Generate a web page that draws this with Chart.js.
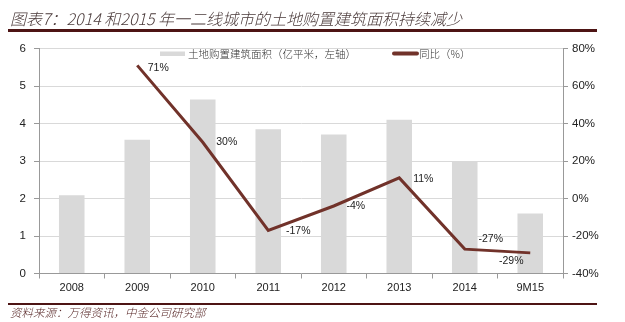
<!DOCTYPE html>
<html>
<head>
<meta charset="utf-8">
<script src="https://cdn.jsdelivr.net/npm/chart.js@4/dist/chart.umd.min.js"></script>
<style>
  html, body { margin: 0; padding: 0; background: #fff; }
  #wrap { position: relative; width: 625px; height: 322px; overflow: hidden; }
  #chart { position: absolute; left: 0; top: 0; }
  .rule { position: absolute; left: 8px; width: 589px; height: 2.5px; background: #4d1414; }
  #title {
    position: absolute; left: 10px; top: 8px;
    font-family: "Noto Sans CJK SC", sans-serif; font-style: italic; font-weight: 300;
    font-size: 16px; color: #4a3a3a; white-space: nowrap; line-height: 20px;
  }
  #source {
    position: absolute; left: 10px; top: 305px;
    font-family: "Noto Sans CJK SC", sans-serif; font-style: italic; font-weight: 300;
    font-size: 11.5px; color: #5a2a2a; white-space: nowrap; line-height: 15px;
  }
</style>
</head>
<body>
<div id="wrap">
  <canvas id="chart" width="625" height="322"></canvas>
  <div id="title">图表7：2014 和2015 年一二线城市的土地购置建筑面积持续减少</div>
  <div class="rule" style="top:29px"></div>
  <div class="rule" style="top:302.5px"></div>
  <div id="source">资料来源：万得资讯，中金公司研究部</div>
</div>
<script>
// Data
const categories = ['2008', '2009', '2010', '2011', '2012', '2013', '2014', '9M15'];
const landArea = [2.09, 3.57, 4.64, 3.85, 3.71, 4.10, 3.00, 1.60];   // 亿平米
const yoyGrowth = [null, 71, 30, -17, -4, 11, -27, -29];            // %
const leftTicks = [0, 1, 2, 3, 4, 5, 6];
const rightTicks = [-40, -20, 0, 20, 40, 60, 80];

// label placement relative to each point (text centre)
const labelDx = [0, 21, 24, 30, 22, 24, 26, -19];
const labelDy = [0, 3, 0, 1, 0, 1, -10, 8];

const barColor = '#d9d9d9';
const lineColor = '#71322a';
const axisColor = '#999999';
const numFont = '"Liberation Sans", Arial, sans-serif';

// Draw value labels next to the line points
const lineLabels = {
    id: 'lineLabels',
    afterDatasetsDraw(chart) {
        const ctx = chart.ctx;
        const meta = chart.getDatasetMeta(1);
        ctx.save();
        ctx.font = '10.5px ' + numFont;
        ctx.fillStyle = '#222';
        ctx.textAlign = 'center';
        ctx.textBaseline = 'middle';
        meta.data.forEach((pt, i) => {
            const v = yoyGrowth[i];
            if (v === null) return;
            ctx.fillText(v + '%', pt.x + labelDx[i], pt.y + labelDy[i]);
        });
        ctx.restore();
    }
};

// Legend drawn inside the plot, Excel style
const inlineLegend = {
    id: 'inlineLegend',
    afterDraw(chart) {
        const ctx = chart.ctx;
        const ds = chart.data.datasets;
        ctx.save();
        ctx.font = '300 10.5px "Noto Sans CJK SC", sans-serif';
        ctx.textBaseline = 'middle';
        // bar item
        ctx.fillStyle = ds[0].backgroundColor;
        ctx.fillRect(160, 51.5, 25, 4.5);
        ctx.fillStyle = '#333';
        ctx.fillText(ds[0].label, 188, 54);
        // line item
        ctx.strokeStyle = ds[1].borderColor;
        ctx.lineWidth = 4;
        ctx.lineCap = 'round';
        ctx.beginPath();
        ctx.moveTo(394, 53.5);
        ctx.lineTo(417, 53.5);
        ctx.stroke();
        ctx.fillText(ds[1].label, 419, 54);
        ctx.restore();
    }
};

new Chart(document.getElementById('chart').getContext('2d'), {
    data: {
        labels: categories,
        datasets: [{
            type: 'bar',
            label: '土地购置建筑面积（亿平米，左轴）',
            data: landArea,
            backgroundColor: barColor,
            barPercentage: 0.39,
            categoryPercentage: 1,
            yAxisID: 'y',
            order: 2
        }, {
            type: 'line',
            label: '同比（%）',
            data: yoyGrowth,
            borderColor: lineColor,
            backgroundColor: lineColor,
            borderWidth: 3,
            pointRadius: 0,
            tension: 0,
            spanGaps: false,
            yAxisID: 'y1',
            order: 1
        }]
    },
    options: {
        responsive: false,
        animation: false,
        layout: { padding: { top: 48.5, left: 0, right: 0, bottom: 0 } },
        plugins: {
            legend: { display: false },
            tooltip: { enabled: false }
        },
        scales: {
            x: {
                offset: true,
                grid: {
                    offset: true,
                    drawOnChartArea: false,
                    drawTicks: true,
                    tickLength: 5,
                    tickColor: axisColor
                },
                border: { color: axisColor, width: 1 },
                ticks: { color: '#222', font: { family: numFont, size: 11 }, padding: 3, maxRotation: 0 },
                afterFit: s => { s.height = 48.5; }
            },
            y: {
                position: 'left',
                min: leftTicks[0],
                max: leftTicks[leftTicks.length - 1],
                afterBuildTicks: s => { s.ticks = leftTicks.map(v => ({ value: v })); },
                grid: { color: '#d9d9d9', tickColor: axisColor, tickLength: 5 },
                border: { color: axisColor, width: 1 },
                ticks: { color: '#222', font: { family: numFont, size: 11.5 }, padding: 8 },
                afterFit: s => { s.width = 39; }
            },
            y1: {
                position: 'right',
                min: rightTicks[0],
                max: rightTicks[rightTicks.length - 1],
                afterBuildTicks: s => { s.ticks = rightTicks.map(v => ({ value: v })); },
                grid: { drawOnChartArea: false, tickColor: axisColor, tickLength: 5 },
                border: { color: axisColor, width: 1 },
                ticks: {
                    color: '#222', font: { family: numFont, size: 11.5 }, padding: 4,
                    callback: v => v + '%'
                },
                afterFit: s => { s.width = 62; }
            }
        }
    },
    plugins: [lineLabels, inlineLegend]
});
</script>
</body>
</html>
